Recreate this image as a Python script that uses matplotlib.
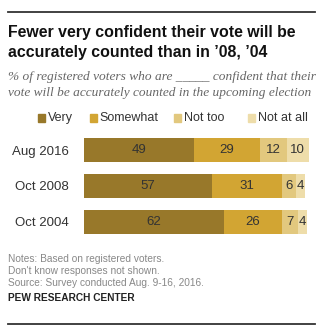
import matplotlib
matplotlib.use("Agg")
import matplotlib.pyplot as plt
from matplotlib.patches import Rectangle
from matplotlib.lines import Line2D

categories = ["Aug 2016", "Oct 2008", "Oct 2004"]
series_names = ["Very", "Somewhat", "Not too", "Not at all"]
very = [49, 57, 62]
somewhat = [29, 31, 26]
not_too = [12, 6, 7]
not_at_all = [10, 4, 4]
colors = ["#98782A", "#D2A533", "#E2C87E", "#EEDDAA"]

W, H = 323, 331
fig = plt.figure(figsize=(W / 100, H / 100), dpi=100)

def fx(px):
    return px / W

def fy(py):
    return 1 - py / H

# top and bottom rules
fig.add_artist(Line2D([fx(8), fx(315)], [fy(11.5), fy(11.5)], color="#333333", lw=1.3))
fig.add_artist(Line2D([fx(8), fx(315)], [fy(324), fy(324)], color="#333333", lw=1.3))

sans = ["Liberation Sans", "DejaVu Sans"]
fig.text(fx(8), fy(33), "Fewer very confident their vote will be", fontsize=11.4,
         fontweight="bold", family=sans, color="#111111", va="center", ha="left")
fig.text(fx(8), fy(53), "accurately counted than in \u201908, \u201904", fontsize=11.4,
         fontweight="bold", family=sans, color="#111111", va="center", ha="left")
serif = ["Liberation Serif", "DejaVu Serif"]
fig.text(fx(8), fy(77), "% of registered voters who are _____ confident that their",
         fontsize=9.6, style="italic", family=serif, color="#666666",
         va="center", ha="left")
fig.text(fx(8), fy(93), "vote will be accurately counted in the upcoming election",
         fontsize=9.6, style="italic", family=serif, color="#666666",
         va="center", ha="left")

ax = fig.add_axes([fx(84), fy(240), 225 / W, 108 / H])
data = [very, somewhat, not_too, not_at_all]
left = [0, 0, 0]
ypos = list(range(len(categories)))
for vals, c in zip(data, colors):
    ax.barh(ypos, vals, left=left, height=24 / 36, color=c, edgecolor="none")
    for i, v in enumerate(vals):
        ax.text(left[i] + v / 2, i, str(v), ha="center", va="center",
                fontsize=9.5, family=sans, color="#333333")
    left = [l + v for l, v in zip(left, vals)]
ax.set_xlim(0, 100)
ax.set_ylim(2.5, -0.5)
ax.set_yticks(ypos)
ax.set_yticklabels(categories, fontsize=9.5, family=sans, color="#333333")
ax.tick_params(axis="y", length=0, pad=11)
ax.set_xticks([])
for s in ax.spines.values():
    s.set_visible(False)

# legend
leg_sq = [38, 90, 174, 248]
for x, name, c in zip(leg_sq, series_names, colors):
    fig.add_artist(Rectangle((fx(x), fy(121.5)), 7 / W, 7 / H, color=c,
                             transform=fig.transFigure))
    fig.text(fx(x + 9.5), fy(118), name, fontsize=9, family=sans, color="#333333",
             va="center", ha="left")

notes = ["Notes: Based on registered voters.",
         "Don't know responses not shown.",
         "Source: Survey conducted Aug. 9-16, 2016."]
for k, t in enumerate(notes):
    fig.text(fx(8), fy(259 + 12 * k), t, fontsize=7.3, family=sans, color="#888888",
             va="center", ha="left")
fig.text(fx(8), fy(298), "PEW RESEARCH CENTER", fontsize=7.3, fontweight="bold",
         family=sans, color="#222222", va="center", ha="left")

fig.savefig("out.png", dpi=100)
